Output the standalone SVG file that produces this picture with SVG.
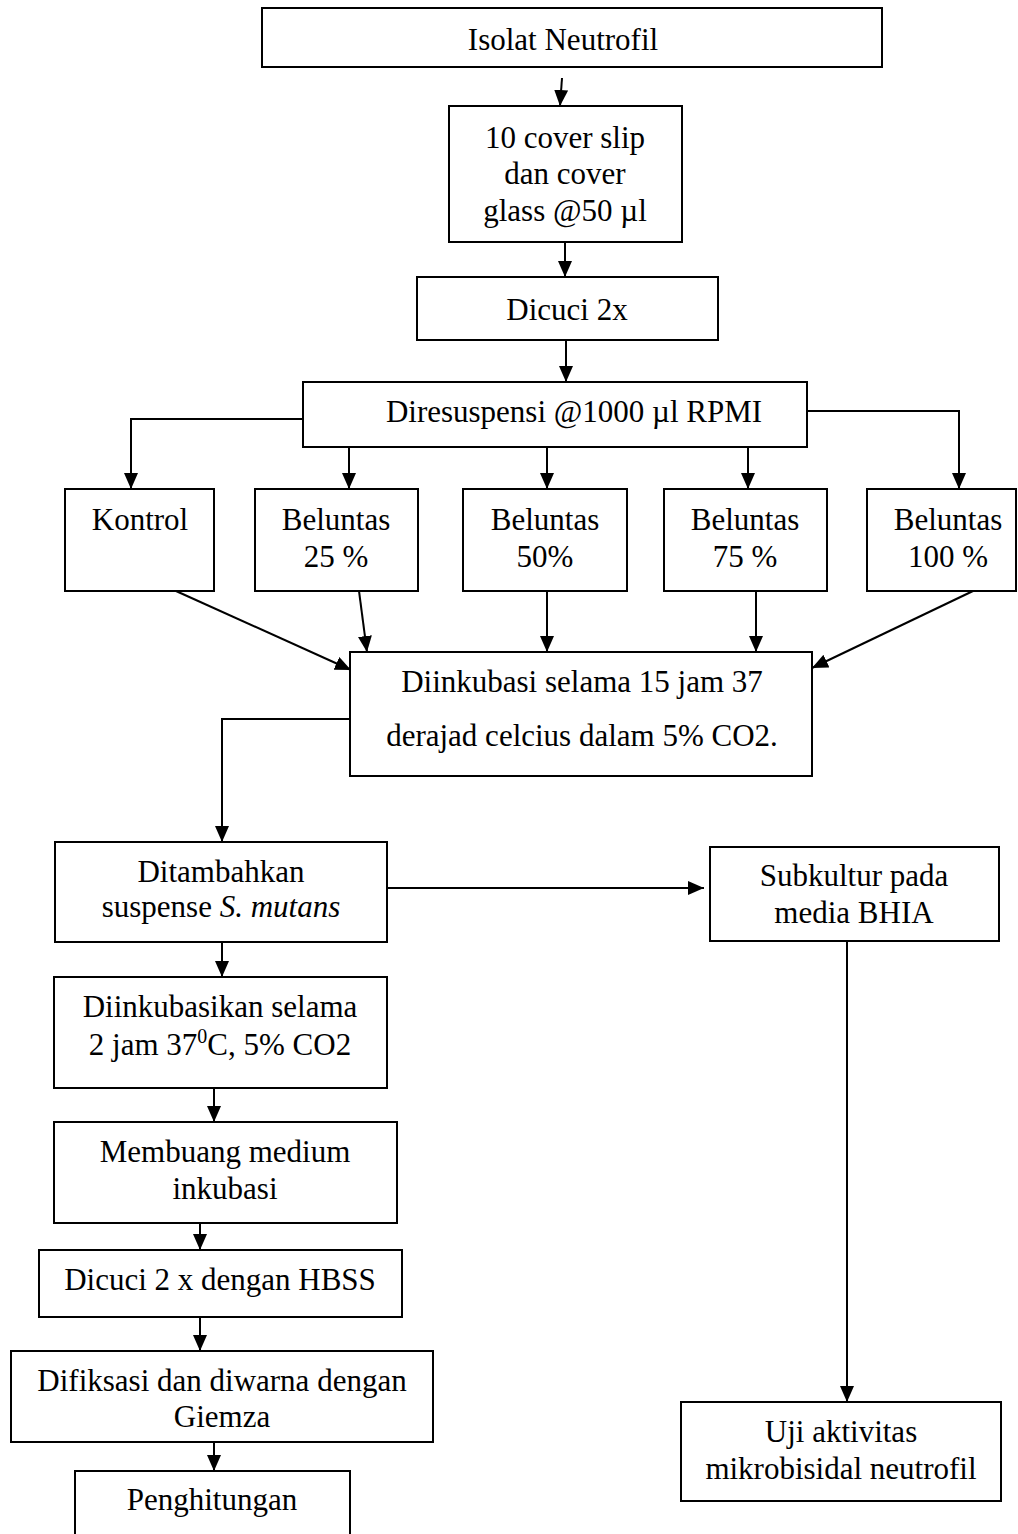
<svg xmlns="http://www.w3.org/2000/svg" width="1018" height="1534" viewBox="0 0 1018 1534">
<style>
.box{fill:#fff;stroke:#000;stroke-width:2}
.t{font-family:"Liberation Serif","Times New Roman",serif;font-size:31px;fill:#000;text-anchor:middle}
.c{fill:none;stroke:#000;stroke-width:2}
</style>
<defs>
<marker id="ah" viewBox="0 0 16 14" refX="16" refY="7" markerWidth="16" markerHeight="14" markerUnits="userSpaceOnUse" orient="auto">
<path d="M0,0 L16,7 L0,14 z" fill="#000"/>
</marker>
</defs>
<rect width="1018" height="1534" fill="#fff"/>
<g id="connectors">
<path class="c" d="M562,78 L560,106" marker-end="url(#ah)"/>
<path class="c" d="M565,242 L565,277" marker-end="url(#ah)"/>
<path class="c" d="M566,340 L566,382" marker-end="url(#ah)"/>
<path class="c" d="M303,419 L131,419 L131,489" marker-end="url(#ah)"/>
<path class="c" d="M349,447 L349,489" marker-end="url(#ah)"/>
<path class="c" d="M547,447 L547,489" marker-end="url(#ah)"/>
<path class="c" d="M748,447 L748,489" marker-end="url(#ah)"/>
<path class="c" d="M807,411 L959,411 L959,489" marker-end="url(#ah)"/>
<path class="c" d="M176,591 L351,670" marker-end="url(#ah)"/>
<path class="c" d="M359,591 L367,652" marker-end="url(#ah)"/>
<path class="c" d="M547,591 L547,652" marker-end="url(#ah)"/>
<path class="c" d="M756,591 L756,652" marker-end="url(#ah)"/>
<path class="c" d="M973,591 L812,668" marker-end="url(#ah)"/>
<path class="c" d="M351,719 L222,719 L222,842" marker-end="url(#ah)"/>
<path class="c" d="M387,888 L704,888" marker-end="url(#ah)"/>
<path class="c" d="M847,942 L847,1402" marker-end="url(#ah)"/>
<path class="c" d="M222,942 L222,977" marker-end="url(#ah)"/>
<path class="c" d="M214,1088 L214,1122" marker-end="url(#ah)"/>
<path class="c" d="M200,1223 L200,1250" marker-end="url(#ah)"/>
<path class="c" d="M200,1317 L200,1351" marker-end="url(#ah)"/>
<path class="c" d="M214,1442 L214,1471" marker-end="url(#ah)"/>
</g>
<g id="n-isolat"><rect class="box" x="262" y="8" width="620" height="59"/><text class="t" x="563" y="50">Isolat Neutrofil</text></g>
<g id="n-cover"><rect class="box" x="449" y="106" width="233" height="136"/><text class="t" x="565" y="148">10 cover slip</text><text class="t" x="565" y="184">dan cover</text><text class="t" x="565" y="221">glass @50 µl</text></g>
<g id="n-dicuci"><rect class="box" x="417" y="277" width="301" height="63"/><text class="t" x="567" y="320">Dicuci 2x</text></g>
<g id="n-resusp"><rect class="box" x="303" y="382" width="504" height="65"/><text class="t" x="574" y="422">Diresuspensi @1000 µl RPMI</text></g>
<g id="n-kontrol"><rect class="box" x="65" y="489" width="149" height="102"/><text class="t" x="140" y="530">Kontrol</text></g>
<g id="n-b25"><rect class="box" x="255" y="489" width="163" height="102"/><text class="t" x="336" y="530">Beluntas</text><text class="t" x="336" y="567">25 %</text></g>
<g id="n-b50"><rect class="box" x="463" y="489" width="164" height="102"/><text class="t" x="545" y="530">Beluntas</text><text class="t" x="545" y="567">50%</text></g>
<g id="n-b75"><rect class="box" x="664" y="489" width="163" height="102"/><text class="t" x="745" y="530">Beluntas</text><text class="t" x="745" y="567">75 %</text></g>
<g id="n-b100"><rect class="box" x="867" y="489" width="149" height="102"/><text class="t" x="948" y="530">Beluntas</text><text class="t" x="948" y="567">100 %</text></g>
<g id="n-inkubasi"><rect class="box" x="350" y="652" width="462" height="124"/><text class="t" x="582" y="692">Diinkubasi selama 15 jam 37</text><text class="t" x="582" y="746">derajad celcius dalam 5% CO2.</text></g>
<g id="n-tambah"><rect class="box" x="55" y="842" width="332" height="100"/><text class="t" x="221" y="882">Ditambahkan</text><text class="t" x="221" y="917">suspense <tspan font-style="italic">S. mutans</tspan></text></g>
<g id="n-subkultur"><rect class="box" x="710" y="847" width="289" height="94"/><text class="t" x="854" y="886">Subkultur pada</text><text class="t" x="854" y="923">media BHIA</text></g>
<g id="n-inkubasi2"><rect class="box" x="54" y="977" width="333" height="111"/><text class="t" x="220" y="1017">Diinkubasikan selama</text><text class="t" x="220" y="1055">2 jam 37<tspan font-size="20" dy="-12">0</tspan><tspan dy="12">C, 5% CO2</tspan></text></g>
<g id="n-membuang"><rect class="box" x="54" y="1122" width="343" height="101"/><text class="t" x="225" y="1162">Membuang medium</text><text class="t" x="225" y="1199">inkubasi</text></g>
<g id="n-hbss"><rect class="box" x="39" y="1250" width="363" height="67"/><text class="t" x="220" y="1290">Dicuci 2 x dengan HBSS</text></g>
<g id="n-fiksasi"><rect class="box" x="11" y="1351" width="422" height="91"/><text class="t" x="222" y="1391">Difiksasi dan diwarna dengan</text><text class="t" x="222" y="1427">Giemza</text></g>
<g id="n-hitung"><rect class="box" x="75" y="1471" width="275" height="80"/><text class="t" x="212" y="1510">Penghitungan</text></g>
<g id="n-uji"><rect class="box" x="681" y="1402" width="320" height="99"/><text class="t" x="841" y="1442">Uji aktivitas</text><text class="t" x="841" y="1479">mikrobisidal neutrofil</text></g>
</svg>
